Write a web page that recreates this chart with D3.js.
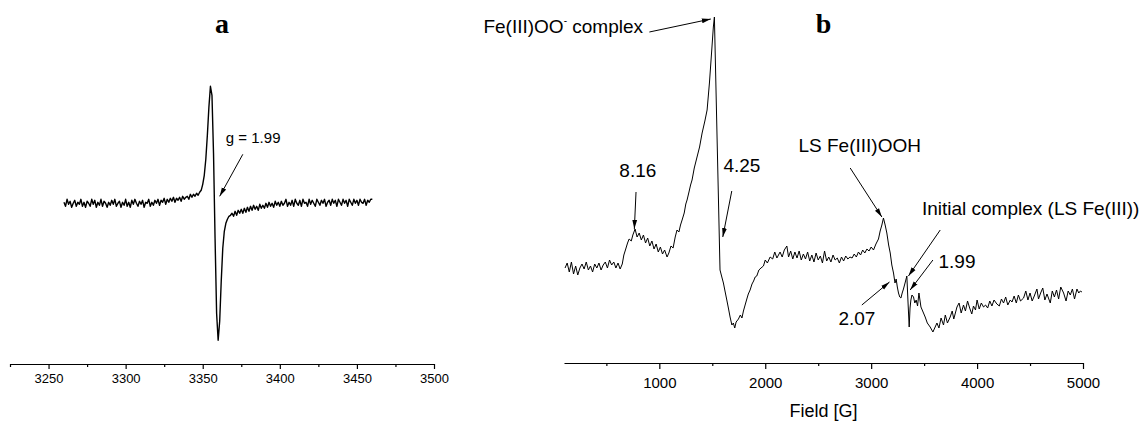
<!DOCTYPE html>
<html>
<head>
<meta charset="utf-8">
<script src="https://cdn.jsdelivr.net/npm/d3@7/dist/d3.min.js"></script>
<style>
  body { margin: 0; background: #fff; }
  svg { display: block; font-family: "Liberation Sans", Arial, sans-serif; }
</style>
</head>
<body>
<script>
// panel a : narrow scan around g = 1.99, 1 G steps
var fieldA = [
  3260,3261,3262,3263,3264,3265,3266,3267,3268,3269,
  3270,3271,3272,3273,3274,3275,3276,3277,3278,3279,
  3280,3281,3282,3283,3284,3285,3286,3287,3288,3289,
  3290,3291,3292,3293,3294,3295,3296,3297,3298,3299,
  3300,3301,3302,3303,3304,3305,3306,3307,3308,3309,
  3310,3311,3312,3313,3314,3315,3316,3317,3318,3319,
  3320,3321,3322,3323,3324,3325,3326,3327,3328,3329,
  3330,3331,3332,3333,3334,3335,3336,3337,3338,3339,
  3340,3341,3342,3343,3344,3345,3346,3347,3348,3349,
  3350,3351,3352,3353,3354,3355,3356,3357,3358,3359,
  3360,3361,3362,3363,3364,3365,3366,3367,3368,3369,
  3370,3371,3372,3373,3374,3375,3376,3377,3378,3379,
  3380,3381,3382,3383,3384,3385,3386,3387,3388,3389,
  3390,3391,3392,3393,3394,3395,3396,3397,3398,3399,
  3400,3401,3402,3403,3404,3405,3406,3407,3408,3409,
  3410,3411,3412,3413,3414,3415,3416,3417,3418,3419,
  3420,3421,3422,3423,3424,3425,3426,3427,3428,3429,
  3430,3431,3432,3433,3434,3435,3436,3437,3438,3439,
  3440,3441,3442,3443,3444,3445,3446,3447,3448,3449,
  3450,3451,3452,3453,3454,3455,3456,3457,3458,3459,
  3460
];
var signalA = [
  1,-3,4,-1,2,-4,0,3,-3,1,
  -1,4,-3,1,-4,2,0,-3,4,-1,
  3,-4,1,-2,4,-3,2,0,-4,1,
  -2,3,-1,4,-3,0,2,-4,1,-2,
  4,-3,1,-4,3,-1,4,0,-3,2,
  -1,3,-4,1,0,4,-3,1,-2,3,
  0,4,-2,3,1,5,-1,4,1,5,
  2,6,1,5,3,6,2,7,4,6,
  7,4,9,6,9,7,10,8,11,13,
  19,28,44,68,96,117,108,50,-35,-110,
  -137,-118,-78,-45,-28,-20,-16,-13,-12,-10,
  -13,-8,-12,-7,-10,-6,-10,-5,-9,-4,
  -8,-3,-7,-2,-6,-3,-7,-1,-5,-2,
  -5,0,-4,1,-3,0,-4,2,-2,1,
  -3,2,-2,0,4,-3,1,-2,3,-3,
  4,0,-2,3,-3,4,0,1,-3,4,
  -1,3,0,-3,4,1,-2,3,0,4,
  -3,1,3,-2,4,0,3,-3,4,1,
  -2,4,0,3,-3,4,1,-2,4,0,
  3,-2,4,1,0,4,-2,3,1,4,
  4
];
var majorA = [3250, 3300, 3350, 3400, 3450, 3500];
var minorA = [3225, 3275, 3325, 3375, 3425, 3475];

// panel b : wide scan
var fieldB = [
  110,130,150,170,190,210,230,250,270,290,
  310,330,350,370,390,410,430,450,470,490,
  510,530,550,570,590,610,630,650,665,680,
  700,715,735,750,771,790,810,830,850,870,
  890,910,930,950,970,990,1010,1030,1050,1073,
  1090,1110,1130,1150,1167,1185,1200,1215,1235,1250,
  1262,1280,1295,1309,1330,1356,1380,1404,1430,1451,
  1473,1495,1510,1520,1530,1545,1560,1573,1590,1605,
  1620,1637,1652,1668,1685,1699,1712,1725,1747,1765,
  1780,1794,1810,1826,1840,1857,1875,1890,1905,1920,
  1940,1960,1983,2000,2020,2046,2070,2090,2110,2140,
  2160,2180,2204,2220,2240,2260,2280,2300,2320,2340,
  2360,2380,2400,2420,2440,2460,2480,2500,2520,2540,
  2560,2580,2600,2620,2640,2660,2680,2700,2720,2740,
  2760,2780,2800,2820,2840,2860,2880,2900,2920,2940,
  2960,2980,3000,3022,3045,3069,3085,3101,3116,3132,
  3148,3165,3180,3195,3211,3225,3236,3247,3258,3270,
  3281,3293,3305,3320,3337,3347,3359,3367,3375,3385,
  3400,3412,3425,3438,3451,3470,3490,3510,3530,3557,
  3583,3600,3621,3640,3660,3683,3700,3720,3746,3765,
  3780,3810,3830,3850,3872,3890,3910,3930,3950,3966,
  3985,4000,4020,4040,4061,4080,4100,4120,4140,4160,
  4187,4210,4230,4250,4270,4290,4313,4330,4350,4370,
  4390,4410,4439,4460,4480,4500,4520,4540,4565,4580,
  4600,4620,4640,4660,4691,4710,4730,4750,4770,4790,
  4817,4840,4860,4880,4900,4920,4943,4960,4975,4990
];
var signalB = [
  95,100,91,101,89,97,88,95,99,94,
  101,93,97,91,99,95,100,93,98,101,
  95,103,98,101,95,100,94,99,108,113,
  120,124,122,128,134,126,130,123,128,120,
  125,117,122,114,119,111,116,109,113,106,
  110,117,115,126,133,131,138,143,150,159,
  163,171,178,183,195,206,216,230,242,253,
  280,313,336,346,298,226,155,93,86,80,
  72,63,55,46,38,40,35,41,44,48,
  45,52,58,64,69,73,79,82,86,87,
  93,95,97,103,100,106,104,111,105,111,
  106,113,117,106,112,104,111,105,112,103,
  109,104,111,102,108,101,110,103,107,100,
  112,102,106,101,108,103,105,100,106,102,
  107,104,106,105,109,106,111,108,113,110,
  114,112,116,113,119,124,132,138,145,138,
  130,118,110,98,90,80,84,76,70,66,
  65,70,74,80,87,63,36,55,63,68,
  66,60,63,57,70,56,51,46,40,36,
  31,35,40,35,45,38,48,40,46,52,
  44,56,60,50,58,52,62,55,49,57,
  53,63,54,60,56,58,55,62,57,63,
  59,57,64,60,66,58,63,61,67,60,
  68,62,65,72,63,70,62,67,74,64,
  70,75,63,69,60,72,66,73,64,76,
  70,62,72,68,74,64,74,70,72,71
];
var majorB = [1000, 2000, 3000, 4000, 5000];
var minorB = [500, 1500, 2500, 3500, 4500];

// annotations: label, text pos [field, signal], anchor, arrow from, arrow to
var notesB = [
  {t: "Fe(III)OO", sup: "-", rest: " complex", at: [846, 330], anchor: "end", from: [906, 331], to: [1486, 344]},
  {t: "8.16", at: [797, 186], anchor: "middle", from: [780, 171], to: [764, 134]},
  {t: "4.25", at: [1605, 191], anchor: "start", from: [1684, 172], to: [1599, 126]},
  {t: "LS Fe(III)OOH", at: [3470, 211], anchor: "end", from: [2802, 195], to: [3101, 146]},
  {t: "Initial complex (LS Fe(III))", at: [3479, 148], anchor: "start", from: [3652, 133], to: [3352, 87]},
  {t: "1.99", at: [3636, 95], anchor: "start", from: [3583, 103], to: [3368, 73]},
  {t: "2.07", at: [2691, 38], anchor: "start", from: [2912, 58], to: [3173, 81]}
];
var noteA = {t: "g = 1.99", at: [3365, 60], from: [3376, 49], to: [3361, 7]};

var w = 1140, h = 423;

var svg = d3.select("body").append("svg")
    .attr("width", w)
    .attr("height", h);

svg.append("rect").attr("width", w).attr("height", h).attr("fill", "#fff");

// arrow head
svg.append("defs").append("marker")
    .attr("id", "head")
    .attr("markerUnits", "userSpaceOnUse")
    .attr("markerWidth", 10)
    .attr("markerHeight", 6)
    .attr("refX", 9)
    .attr("refY", 3)
    .attr("orient", "auto")
    .append("path")
    .attr("d", "M0,0.6 L9,3 L0,5.4 Z")
    .attr("fill", "#000");

//scales
var xA = d3.scaleLinear().domain([3225, 3500]).range([10, 434]);
var yA = d3.scaleLinear().domain([-150, 150]).range([353.3, 53.3]);
var xB = d3.scaleLinear().domain([100, 5000]).range([564, 1083]);
var yB = d3.scaleLinear().domain([0, 350]).range([363, 13]);

var lineA = d3.line()
    .x(function (d, i) { return xA(fieldA[i]); })
    .y(function (d, i) { return yA(signalA[i]); });
var lineB = d3.line()
    .x(function (d, i) { return xB(fieldB[i]); })
    .y(function (d, i) { return yB(signalB[i]); });

svg.append("path")
    .attr("d", lineA(fieldA))
    .attr("fill", "none")
    .attr("stroke", "#000")
    .attr("stroke-width", 1.4)
    .attr("stroke-linejoin", "round");

svg.append("path")
    .attr("d", lineB(fieldB))
    .attr("fill", "none")
    .attr("stroke", "#000")
    .attr("stroke-width", 1)
    .attr("stroke-linejoin", "round");

//axes
function drawAxis(x, y0, major, minor, bigTick, pad, fs) {
    var g = svg.append("g").attr("transform", "translate(0," + y0 + ")");
    g.append("g")
        .call(d3.axisBottom(x).tickValues(minor).tickSize(3).tickSizeOuter(0).tickFormat(""))
        .select(".domain").remove();
    var ax = g.append("g")
        .call(d3.axisBottom(x).tickValues(major).tickSize(bigTick).tickSizeOuter(0)
            .tickPadding(pad).tickFormat(d3.format("d")));
    g.selectAll("path, line").attr("stroke", "#000").attr("stroke-width", 1.2);
    ax.selectAll("text").attr("fill", "#000").style("font-size", fs + "px")
        .style("font-family", "'Liberation Sans', Arial, sans-serif");
}
drawAxis(xA, 364, majorA, minorA, 5, 5, 13);
drawAxis(xB, 363, majorB, minorB, 6, 8, 15);

svg.append("text")
    .attr("x", (xB.range()[0] + xB.range()[1]) / 2)
    .attr("y", 417)
    .attr("text-anchor", "middle")
    .style("font-size", "18px")
    .text("Field [G]");

// panel titles
svg.append("text")
    .attr("x", (xA.range()[0] + xA.range()[1]) / 2)
    .attr("y", 33)
    .attr("text-anchor", "middle")
    .style("font-family", "'Liberation Serif', 'Times New Roman', serif")
    .style("font-weight", "bold")
    .style("font-size", "28px")
    .text("a");
svg.append("text")
    .attr("x", (xB.range()[0] + xB.range()[1]) / 2)
    .attr("y", 33)
    .attr("text-anchor", "middle")
    .style("font-family", "'Liberation Serif', 'Times New Roman', serif")
    .style("font-weight", "bold")
    .style("font-size", "28px")
    .text("b");

// annotations
svg.append("text")
    .attr("x", xA(noteA.at[0]))
    .attr("y", yA(noteA.at[1]))
    .style("font-size", "15px")
    .text(noteA.t);
svg.append("line")
    .attr("x1", xA(noteA.from[0])).attr("y1", yA(noteA.from[1]))
    .attr("x2", xA(noteA.to[0])).attr("y2", yA(noteA.to[1]))
    .attr("stroke", "#000").attr("stroke-width", 1)
    .attr("marker-end", "url(#head)");

notesB.forEach(function (n) {
    var t = svg.append("text")
        .attr("x", xB(n.at[0]))
        .attr("y", yB(n.at[1]))
        .attr("text-anchor", n.anchor)
        .style("font-size", "19px");
    t.append("tspan").text(n.t);
    if (n.sup) {
        t.append("tspan").attr("dy", -9).style("font-size", "10px").text(n.sup);
        t.append("tspan").attr("dy", 9).text(n.rest);
    }
    svg.append("line")
        .attr("x1", xB(n.from[0])).attr("y1", yB(n.from[1]))
        .attr("x2", xB(n.to[0])).attr("y2", yB(n.to[1]))
        .attr("stroke", "#000").attr("stroke-width", 1)
        .attr("marker-end", "url(#head)");
});
</script>
</body>
</html>
